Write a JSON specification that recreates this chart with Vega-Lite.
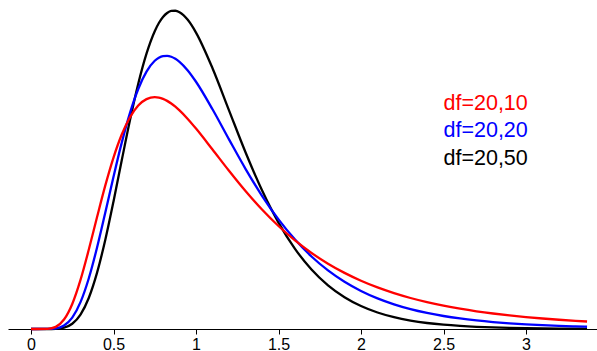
{
  "$schema": "https://vega.github.io/schema/vega-lite/v6.json",
  "autosize": "none",
  "width": 589,
  "height": 329,
  "padding": {"left": 8, "top": 0, "right": 0, "bottom": 22},
  "background": "white",
  "config": {
    "view": {"stroke": null},
    "axis": {"grid": false, "labelFont": "Liberation Sans", "labelFontSize": 16, "labelColor": "black", "domainColor": "black", "tickColor": "black"}
  },
  "datasets": {
    "dens": [
      {"x": 0, "a": 0, "b": 0, "c": 0},
      {"x": 0.1, "a": 0.00067, "b": 0.00014, "c": 0.00004},
      {"x": 0.15, "a": 0.0077, "b": 0.00217, "c": 0.00069},
      {"x": 0.2, "a": 0.0337, "b": 0.01234, "c": 0.00476},
      {"x": 0.25, "a": 0.0893, "b": 0.0406, "c": 0.01866},
      {"x": 0.3, "a": 0.175, "b": 0.0957, "c": 0.0513},
      {"x": 0.35, "a": 0.2822, "b": 0.1801, "c": 0.1105},
      {"x": 0.4, "a": 0.3983, "b": 0.2895, "c": 0.1999},
      {"x": 0.45, "a": 0.5109, "b": 0.4141, "c": 0.3172},
      {"x": 0.5, "a": 0.611, "b": 0.5426, "c": 0.4547},
      {"x": 0.55, "a": 0.693, "b": 0.6641, "c": 0.6012},
      {"x": 0.6, "a": 0.7547, "b": 0.7701, "c": 0.7446},
      {"x": 0.65, "a": 0.7963, "b": 0.8554, "c": 0.8742},
      {"x": 0.7, "a": 0.8193, "b": 0.9172, "c": 0.9814},
      {"x": 0.75, "a": 0.8264, "b": 0.9559, "c": 1.0614},
      {"x": 0.775, "a": 0.8248, "b": 0.9669, "c": 1.0904},
      {"x": 0.8, "a": 0.8202, "b": 0.9727, "c": 1.1118},
      {"x": 0.825, "a": 0.813, "b": 0.9737, "c": 1.126},
      {"x": 0.85, "a": 0.8036, "b": 0.9704, "c": 1.1334},
      {"x": 0.875, "a": 0.7922, "b": 0.963, "c": 1.1342},
      {"x": 0.9, "a": 0.779, "b": 0.9522, "c": 1.1289},
      {"x": 0.95, "a": 0.7486, "b": 0.9214, "c": 1.1018},
      {"x": 1.0, "a": 0.7143, "b": 0.8811, "c": 1.0564},
      {"x": 1.1, "a": 0.6397, "b": 0.783, "c": 0.9293},
      {"x": 1.2, "a": 0.5639, "b": 0.6758, "c": 0.7794},
      {"x": 1.3, "a": 0.4917, "b": 0.5709, "c": 0.6299},
      {"x": 1.4, "a": 0.4257, "b": 0.4748, "c": 0.4944},
      {"x": 1.5, "a": 0.367, "b": 0.3905, "c": 0.3793},
      {"x": 1.6, "a": 0.3155, "b": 0.3186, "c": 0.2857},
      {"x": 1.7, "a": 0.271, "b": 0.2585, "c": 0.2121},
      {"x": 1.8, "a": 0.2327, "b": 0.2089, "c": 0.1557},
      {"x": 1.9, "a": 0.2, "b": 0.1684, "c": 0.1133},
      {"x": 2.0, "a": 0.172, "b": 0.1357, "c": 0.0819},
      {"x": 2.1, "a": 0.1481, "b": 0.1092, "c": 0.0588},
      {"x": 2.2, "a": 0.1278, "b": 0.088, "c": 0.0421},
      {"x": 2.3, "a": 0.1105, "b": 0.0709, "c": 0.0301},
      {"x": 2.4, "a": 0.0958, "b": 0.0573, "c": 0.0214},
      {"x": 2.5, "a": 0.0832, "b": 0.0463, "c": 0.0153},
      {"x": 2.6, "a": 0.0724, "b": 0.0375, "c": 0.0109},
      {"x": 2.7, "a": 0.0631, "b": 0.0305, "c": 0.0077},
      {"x": 2.8, "a": 0.0552, "b": 0.0248, "c": 0.0055},
      {"x": 2.9, "a": 0.0484, "b": 0.0202, "c": 0.0039},
      {"x": 3.0, "a": 0.0425, "b": 0.0165, "c": 0.0028},
      {"x": 3.1, "a": 0.0374, "b": 0.0136, "c": 0.002},
      {"x": 3.2, "a": 0.033, "b": 0.0111, "c": 0.0014},
      {"x": 3.3, "a": 0.0292, "b": 0.0092, "c": 0.001},
      {"x": 3.37, "a": 0.0268, "b": 0.008, "c": 0.0008}
    ],
    "labels": [
      {"x": 2.5, "y": 0.78, "t": "df=20,10", "col": "red"},
      {"x": 2.5, "y": 0.683, "t": "df=20,20", "col": "blue"},
      {"x": 2.5, "y": 0.586, "t": "df=20,50", "col": "black"}
    ]
  },
  "layer": [
    {
      "data": {"name": "dens"},
      "mark": {"type": "line", "color": "black", "strokeWidth": 2.3, "interpolate": "monotone"},
      "encoding": {
        "x": {"field": "x", "type": "quantitative", "scale": {"domain": [-0.1394, 3.4303], "nice": false, "zero": false}, "axis": {"values": [0, 0.5, 1, 1.5, 2, 2.5, 3], "format": "~g", "title": null, "tickSize": 5, "labelPadding": 2, "domainWidth": 1, "tickWidth": 1}},
        "y": {"field": "c", "type": "quantitative", "scale": {"domain": [0, 1.1725], "nice": false, "zero": false}, "axis": null}
      }
    },
    {
      "data": {"name": "dens"},
      "mark": {"type": "line", "color": "#0000FF", "strokeWidth": 2.3, "interpolate": "monotone"},
      "encoding": {
        "x": {"field": "x", "type": "quantitative"},
        "y": {"field": "b", "type": "quantitative"}
      }
    },
    {
      "data": {"name": "dens"},
      "mark": {"type": "line", "color": "#FF0000", "strokeWidth": 2.3, "interpolate": "monotone"},
      "encoding": {
        "x": {"field": "x", "type": "quantitative"},
        "y": {"field": "a", "type": "quantitative"}
      }
    },
    {
      "data": {"name": "labels"},
      "mark": {"type": "text", "align": "left", "baseline": "alphabetic", "font": "Liberation Sans", "fontSize": 21.5},
      "encoding": {
        "x": {"field": "x", "type": "quantitative"},
        "y": {"field": "y", "type": "quantitative"},
        "text": {"field": "t"},
        "color": {"field": "col", "type": "nominal", "scale": null}
      }
    }
  ]
}
